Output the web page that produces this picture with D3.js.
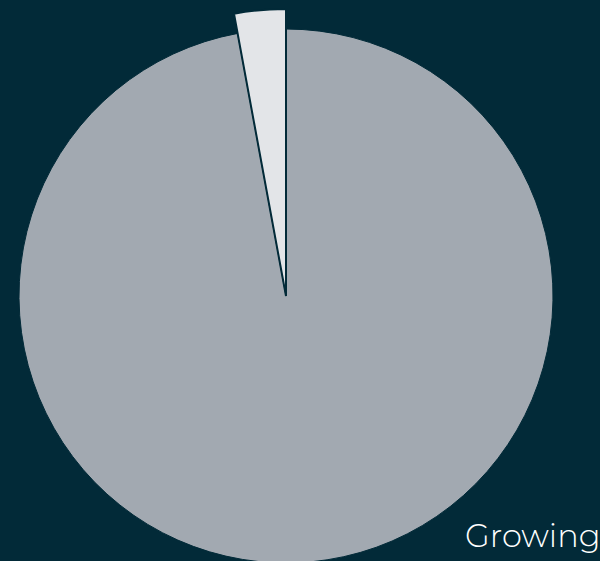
<!DOCTYPE html>
<html><head><meta charset="utf-8">
<script src="https://cdn.jsdelivr.net/npm/d3@7"></script>
<style>html,body{margin:0;padding:0;background:#022a38;overflow:hidden}</style>
</head><body>
<svg id="c" width="600" height="561"></svg>
<script>
const categories = ["Growing", "Other"];
const values = [97.1, 2.9];
const colors = ["#a2a9b1", "#e3e5e8"];
const labels = ["Growing"];

const svg = d3.select("#c");
const cx = 286, cy = 296, r = 267, rHover = 287;
const pie = d3.pie().sort(null).value(d => d.v);
const arcs = pie(categories.map((c, i) => ({c, v: values[i], col: colors[i]})));
const g = svg.append("g").attr("transform", `translate(${cx},${cy})`);
g.selectAll("path").data(arcs).join("path")
  .attr("d", (d, i) => d3.arc().innerRadius(0).outerRadius(i === 1 ? rHover : r)(d))
  .attr("fill", d => d.data.col)
  .attr("stroke", "#022a38")
  .attr("stroke-width", (d, i) => i === 1 ? 2 : 1);
svg.append("text").attr("x", 465).attr("y", 547)
  .attr("font-family", "Montserrat, Lato, 'Open Sans', sans-serif")
  .attr("font-weight", 300).attr("font-size", 32)
  .attr("fill", "#ffffff").text(labels[0]);
</script>
</body></html>
